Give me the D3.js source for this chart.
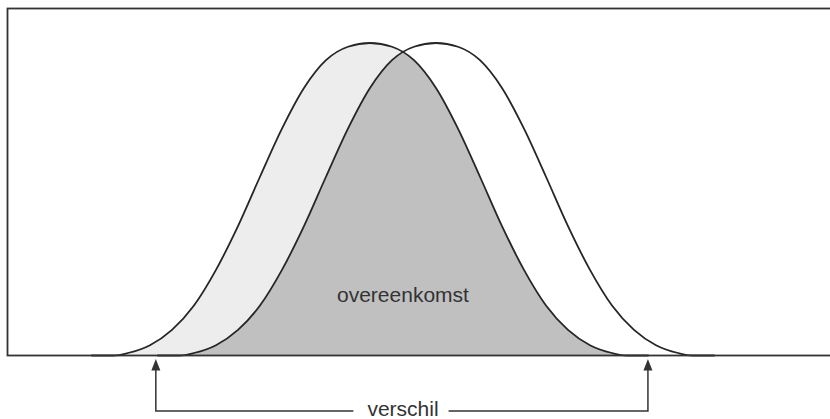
<!DOCTYPE html>
<html>
<head>
<meta charset="utf-8">
<script src="https://cdn.jsdelivr.net/npm/d3@7"></script>
<style>
  body { margin: 0; background: #fff; }
  svg { display: block; }
  text { font-family: "Liberation Sans", Arial, Helvetica, sans-serif; }
</style>
</head>
<body>
<svg id="chart" width="830" height="419"></svg>
<script>
// two distributions with the same shape, shifted
const curveNames = ["links", "rechts"];
const curveCenters = [0, 9];
// half profile: distance from the centre -> relative height
const profileOffsets = [0, 3, 6, 9, 12, 15, 18, 21, 24, 27, 30, 33, 35, 38];
const profileHeights = [1, 0.988, 0.945, 0.856, 0.726, 0.572, 0.414, 0.274, 0.16, 0.082, 0.033, 0.008, 0, 0];
const verschilEnds = [-29.2, 37.9];
const overlapLabel = "overeenkomst";
const diffLabel = "verschil";

const svg = d3.select("#chart");
const baseY = 355.5;

const x = d3.scaleLinear().domain([-50, 60]).range([3.3, 810]);
const y = d3.scaleLinear().domain([0, 1]).range([baseY, 43]);

// full symmetric profile
const n = profileOffsets.length;
const profile = d3.range(n - 1, 0, -1).map(i => ({o: -profileOffsets[i], h: profileHeights[i]}))
  .concat(d3.range(0, n).map(i => ({o: profileOffsets[i], h: profileHeights[i]})));

const area = d3.area()
  .x(d => x(d.o + d.c))
  .y0(baseY)
  .y1(d => y(Math.max(0, d.h)))
  .curve(d3.curveMonotoneX);

const line = d3.line()
  .x(d => x(d.o + d.c))
  .y(d => y(d.h))
  .curve(d3.curveMonotoneX);

const pts = curveCenters.map(c => profile.map(p => ({o: p.o, h: p.h, c: c})));

svg.append("defs").append("clipPath")
  .attr("id", "clip-left")
  .append("path")
  .attr("d", area(pts[0]));

// light area under left curve
svg.append("path")
  .attr("d", area(pts[0]))
  .attr("fill", "#ededed");

// overlap: right curve clipped by left curve
svg.append("path")
  .attr("d", area(pts[1]))
  .attr("clip-path", "url(#clip-left)")
  .attr("fill", "#c0c0c0");

svg.selectAll("path.curve")
  .data(pts)
  .join("path")
  .attr("class", "curve")
  .attr("d", d => line(d))
  .attr("fill", "none")
  .attr("stroke", "#262626")
  .attr("stroke-width", 1.8);

// frame (right edge runs off the picture)
svg.append("rect")
  .attr("x", 7.5)
  .attr("y", 8.5)
  .attr("width", 840)
  .attr("height", baseY - 8.5)
  .attr("fill", "none")
  .attr("stroke", "#333")
  .attr("stroke-width", 1.8);

svg.append("text")
  .attr("x", x((curveCenters[0] + curveCenters[1]) / 2))
  .attr("y", 302)
  .attr("text-anchor", "middle")
  .attr("font-size", 21)
  .attr("fill", "#333")
  .text(overlapLabel);

// "verschil" bracket with two arrows
const bracketY = 411;
const label = svg.append("text")
  .attr("x", x((curveCenters[0] + curveCenters[1]) / 2))
  .attr("y", 416)
  .attr("text-anchor", "middle")
  .attr("font-size", 21)
  .attr("fill", "#333")
  .text(diffLabel);
const bb = label.node().getBBox();

const xl = x(verschilEnds[0]), xr = x(verschilEnds[1]);
svg.append("path")
  .attr("d", `M${bb.x - 14},${bracketY}H${xl}V${baseY + 12}`)
  .attr("fill", "none").attr("stroke", "#333").attr("stroke-width", 1.5);
svg.append("path")
  .attr("d", `M${bb.x + bb.width + 10},${bracketY}H${xr}V${baseY + 12}`)
  .attr("fill", "none").attr("stroke", "#333").attr("stroke-width", 1.5);

svg.selectAll("path.head")
  .data([xl, xr])
  .join("path")
  .attr("class", "head")
  .attr("d", d => `M${d},${baseY + 3.5}L${d - 4.5},${baseY + 15}L${d + 4.5},${baseY + 15}Z`)
  .attr("fill", "#333");
</script>
</body>
</html>
